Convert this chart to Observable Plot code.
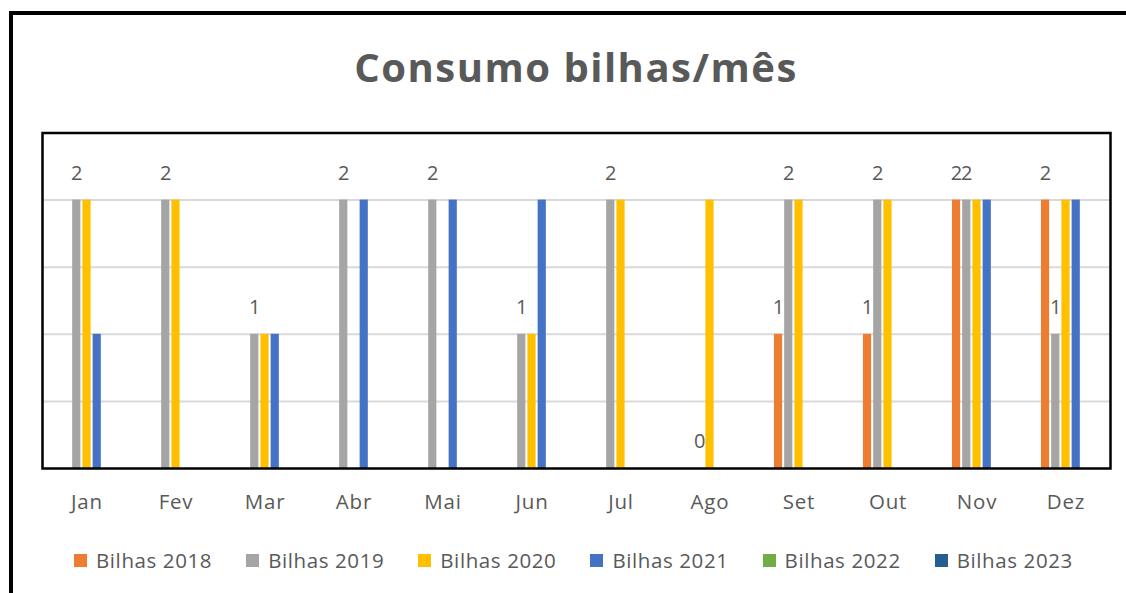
<!DOCTYPE html>
<html>
<head>
<meta charset="utf-8">
<script src="https://cdn.jsdelivr.net/npm/d3@7"></script>
<script src="https://cdn.jsdelivr.net/npm/@observablehq/plot@0.6"></script>
<style>
  html, body { margin: 0; padding: 0; background: #fff; }
  #wrap { position: relative; width: 1126px; height: 593px; overflow: hidden; font-family: "Open Sans", sans-serif; color: #595959; }
  #outer { position: absolute; left: 9px; top: 11px; width: 1200px; height: 700px; border-left: 4px solid #000; border-top: 4px solid #000; }
  #title { position: absolute; left: 0; width: 1152px; top: 47px; text-align: center; font-weight: 700; font-size: 40px; letter-spacing: 1.5px; line-height: 1; color: #595959; }
  #chart { position: absolute; left: 0; top: 100px; }
  #legend { position: absolute; left: 74px; top: 546px; display: flex; align-items: center; font-size: 20.5px; letter-spacing: 0.6px; color: #595959; white-space: nowrap; }
  .item { display: flex; align-items: center; margin-right: 34px; }
  .sw { width: 13px; height: 13px; margin-right: 9px; }
  #chart svg g[aria-label="fx-axis tick label"] text { letter-spacing: 0.8px; }
</style>
</head>
<body>
<div id="wrap">
  <div id="outer"></div>
  <div id="title">Consumo bilhas/mês</div>
  <div id="chart"></div>
  <div id="legend"></div>
</div>
<script>
const months = ["Jan", "Fev", "Mar", "Abr", "Mai", "Jun", "Jul", "Ago", "Set", "Out", "Nov", "Dez"];
const seriesNames = ["Bilhas 2018", "Bilhas 2019", "Bilhas 2020", "Bilhas 2021", "Bilhas 2022", "Bilhas 2023"];
const seriesColors = ["#ED7D31", "#A5A5A5", "#FFC000", "#4472C4", "#70AD47", "#255E91"];
const bilhas2018 = [null, null, null, null, null, null, null, null, 1, 1, 2, 2];
const bilhas2019 = [2, 2, 1, 2, 2, 1, 2, 0, 2, 2, 2, 1];
const bilhas2020 = [2, 2, 1, null, null, 1, 2, 2, 2, 2, 2, 2];
const bilhas2021 = [1, null, 1, 2, 2, 2, null, null, null, null, 2, 2];
const bilhas2022 = [null, null, null, null, null, null, null, null, null, null, null, null];
const bilhas2023 = [null, null, null, null, null, null, null, null, null, null, null, null];
const labelledSeries = ["Bilhas 2018", "Bilhas 2019"];
const yTicks = [0.5, 1, 1.5, 2];

const allValues = [bilhas2018, bilhas2019, bilhas2020, bilhas2021, bilhas2022, bilhas2023];
const data = [];
allValues.forEach((vals, si) => {
  vals.forEach((v, mi) => {
    if (v !== null) data.push({month: months[mi], series: seriesNames[si], value: v});
  });
});
const labels = data.filter(d => labelledSeries.includes(d.series));

const chart = Plot.plot({
  width: 1126,
  height: 418,
  marginLeft: 39,
  marginRight: 13,
  marginTop: 32.5,
  marginBottom: 50,
  style: {fontFamily: "Open Sans, sans-serif", fontSize: "20.5px", color: "#595959", background: "transparent"},
  fx: {domain: months, padding: 0, axis: "bottom", tickSize: 0, tickPadding: 26, label: null},
  x: {domain: seriesNames.slice(0, 5), paddingInner: 0.2, paddingOuter: 1.95, round: false, axis: null},
  y: {domain: [0, 2.5], axis: null},
  color: {domain: seriesNames, range: seriesColors},
  marks: [
    Plot.gridY(yTicks, {stroke: "#d9d9d9", strokeOpacity: 1, strokeWidth: 2}),
    Plot.barY(data, {fx: "month", x: "series", y: "value", fill: "series"}),
    Plot.text(labels, {fx: "month", x: "series", y: "value", text: d => String(d.value), dy: -27, fill: "#595959", fontSize: 20}),
    Plot.frame({facet: "super", stroke: "#000", strokeWidth: 2.5})
  ]
});
document.getElementById("chart").appendChild(chart);

const legend = document.getElementById("legend");
seriesNames.forEach((name, i) => {
  const item = document.createElement("div");
  item.className = "item";
  const sw = document.createElement("div");
  sw.className = "sw";
  sw.style.background = seriesColors[i];
  const t = document.createElement("span");
  t.textContent = name;
  item.appendChild(sw);
  item.appendChild(t);
  legend.appendChild(item);
});
</script>
</body>
</html>
